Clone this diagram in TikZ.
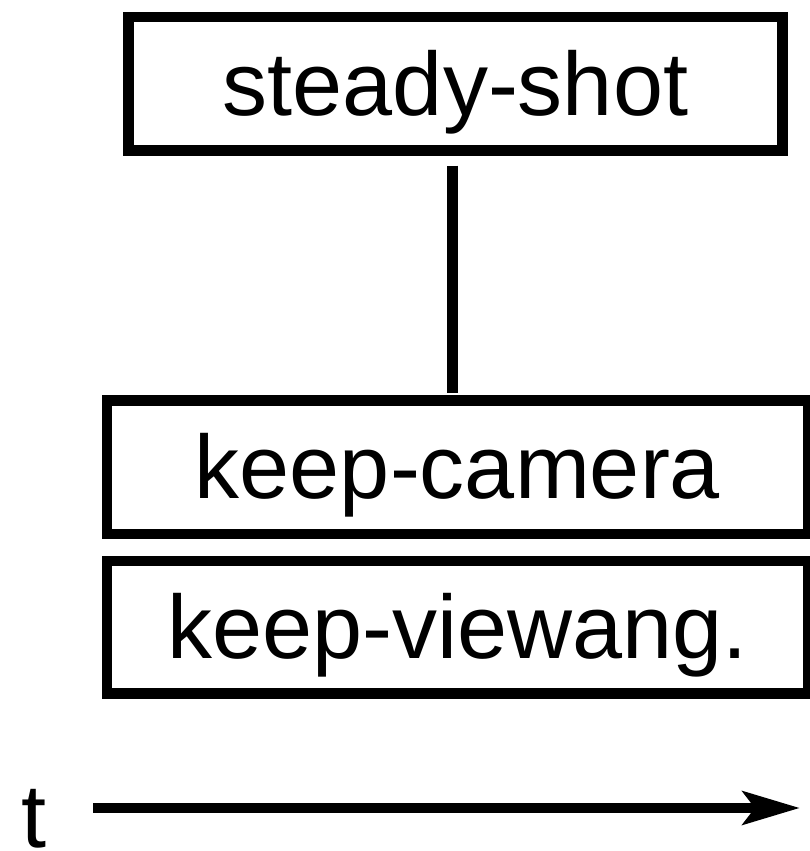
\documentclass[tikz,border=0pt]{standalone}
\usepackage{fontspec}
\setmainfont{Liberation Sans}
\usetikzlibrary{arrows.meta}
\begin{document}
\begin{tikzpicture}[x=1pt,y=1pt,
  lw/.style={line width=10.5pt},
  boxnode/.style={draw, lw, inner sep=0pt, text height=63pt, text depth=0pt,
    font=\fontsize{90}{100}\selectfont, minimum height=133.5pt},
  conn/.style={lw},
]
\useasboundingbox (0,0) rectangle (810,851);
\node[boxnode, minimum width=654pt] (S) at (455.5,767.25) {steady-shot};
\node[boxnode, minimum width=701pt] (C) at (457.5,383.75) {keep-camera};
\node[boxnode, minimum width=701pt, minimum height=132.5pt] (V) at (457.5,223.75) {keep-viewang.};
\draw[conn, shorten <=10pt, shorten >=2pt] ([xshift=-3pt]S.south) -- ([xshift=-3pt]S.south |- C.north);
\node[font=\fontsize{90}{100}\selectfont, anchor=base, inner sep=0pt] (t) at (34,3) {t};
\coordinate (a0) at (93,43);
\coordinate (a1) at (800,43);
\draw[conn, -{Stealth[length=57pt, width=33pt, inset=12pt]}] (a0) -- (a1);
\end{tikzpicture}
\end{document}
